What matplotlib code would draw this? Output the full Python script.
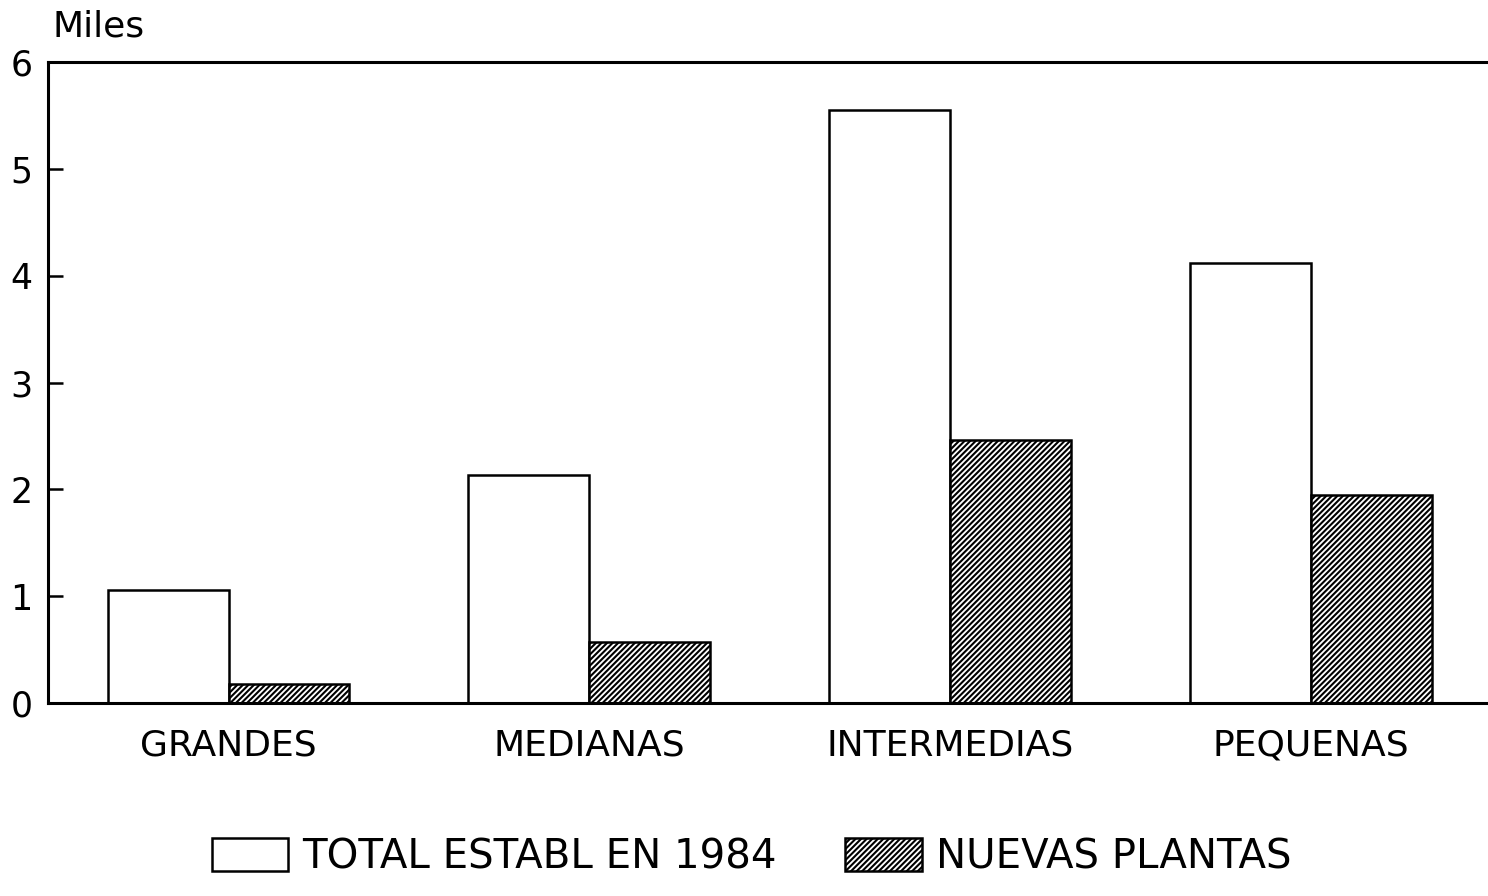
import numpy as np
import matplotlib
matplotlib.use("Agg")
import matplotlib.pyplot as plt

plt.rcParams['font.family'] = ['DejaVu Sans']
plt.rcParams['hatch.linewidth'] = 1.5

categorias = ['GRANDES', 'MEDIANAS', 'INTERMEDIAS', 'PEQUENAS']
total_1984 = [1.06, 2.13, 5.55, 4.12]
nuevas_plantas = [0.18, 0.57, 2.46, 1.95]
y_ticks = [0, 1, 2, 3, 4, 5, 6]

fig = plt.figure(figsize=(14.88, 8.96), dpi=100)
ax = fig.add_axes([0.0323, 0.2154, 0.9677, 0.7154])

x = np.arange(len(categorias))
w = 0.335
ax.bar(x - w / 2, total_1984, w, color='white', edgecolor='black', linewidth=1.8,
       label='TOTAL ESTABL EN 1984')
ax.bar(x + w / 2, nuevas_plantas, w, color='white', edgecolor='black', linewidth=1.8,
       hatch='//////', label='NUEVAS PLANTAS')

ax.set_xlim(-0.5, 3.49)
ax.set_ylim(0, 6)
ax.set_yticks(y_ticks)
ax.set_yticklabels([str(t) for t in y_ticks], fontsize=25)
ax.tick_params(axis='y', direction='in', length=11, width=1.8, pad=11)
ax.set_xticks(x)
ax.set_xticklabels(categorias, fontsize=26)
ax.tick_params(axis='x', length=0, pad=18)
for s in ['left', 'top', 'bottom']:
    ax.spines[s].set_linewidth(2.2)
ax.spines['right'].set_visible(False)

fig.text(0.035, 0.97, 'Miles', fontsize=26, ha='left', va='center')

fig.legend(loc='lower center', bbox_to_anchor=(0.505, -0.02), ncol=2, frameon=False,
           fontsize=29, handlelength=1.9, handleheight=0.9, handletextpad=0.35,
           columnspacing=1.7)

fig.savefig('out.png', dpi=100)
